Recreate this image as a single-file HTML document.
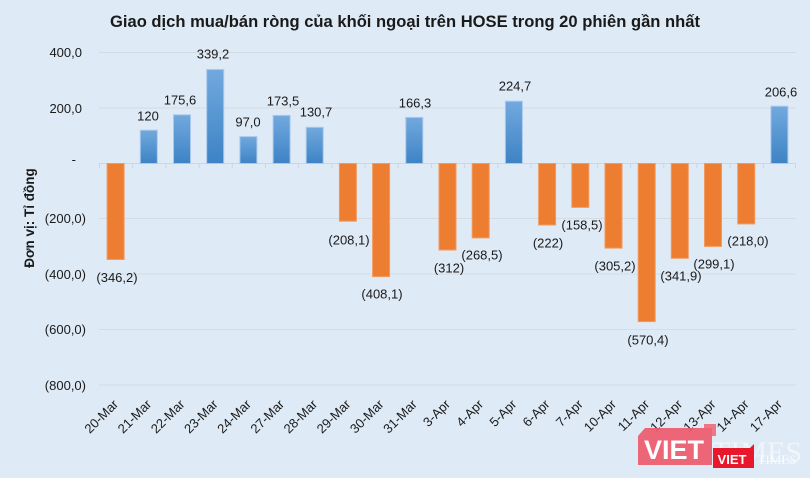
<!DOCTYPE html>
<html><head><meta charset="utf-8"><style>
html,body{margin:0;padding:0;background:#deeaf6;}
svg{display:block;font-family:"Liberation Sans",Arial,sans-serif;}
</style></head><body>
<svg width="810" height="478" viewBox="0 0 810 478" xmlns="http://www.w3.org/2000/svg">
<defs>
<linearGradient id="bg" x1="0" y1="0" x2="0" y2="1">
<stop offset="0" stop-color="#72a9de"/><stop offset="1" stop-color="#3d83c5"/>
</linearGradient>
</defs>
<rect x="0" y="0" width="810" height="478" fill="#deeaf6"/>
<text x="405" y="27" text-anchor="middle" font-size="16.5" font-weight="bold" fill="#1a1a1a" textLength="590" lengthAdjust="spacingAndGlyphs">Giao dịch mua/bán ròng của khối ngoại trên HOSE trong 20 phiên gần nhất</text>
<!-- grid -->
<g stroke="#d5dbe3" stroke-width="1">
<line x1="99" y1="52.5" x2="796" y2="52.5"/>
<line x1="99" y1="108" x2="796" y2="108"/>
<line x1="99" y1="218.5" x2="796" y2="218.5"/>
<line x1="99" y1="274" x2="796" y2="274"/>
<line x1="99" y1="329.5" x2="796" y2="329.5"/>
<line x1="99" y1="385" x2="796" y2="385"/>
</g>
<line x1="99" y1="163.5" x2="796" y2="163.5" stroke="#cfd6df" stroke-width="1"/>
<g stroke="#cfd6df" stroke-width="1">
<line x1="99.5" y1="163" x2="99.5" y2="168"/>
<line x1="132.7" y1="163" x2="132.7" y2="168"/>
<line x1="165.9" y1="163" x2="165.9" y2="168"/>
<line x1="199.1" y1="163" x2="199.1" y2="168"/>
<line x1="232.3" y1="163" x2="232.3" y2="168"/>
<line x1="265.5" y1="163" x2="265.5" y2="168"/>
<line x1="298.6" y1="163" x2="298.6" y2="168"/>
<line x1="331.8" y1="163" x2="331.8" y2="168"/>
<line x1="365" y1="163" x2="365" y2="168"/>
<line x1="398.2" y1="163" x2="398.2" y2="168"/>
<line x1="431.4" y1="163" x2="431.4" y2="168"/>
<line x1="464.6" y1="163" x2="464.6" y2="168"/>
<line x1="497.8" y1="163" x2="497.8" y2="168"/>
<line x1="531" y1="163" x2="531" y2="168"/>
<line x1="564.2" y1="163" x2="564.2" y2="168"/>
<line x1="597.4" y1="163" x2="597.4" y2="168"/>
<line x1="630.6" y1="163" x2="630.6" y2="168"/>
<line x1="663.7" y1="163" x2="663.7" y2="168"/>
<line x1="696.9" y1="163" x2="696.9" y2="168"/>
<line x1="730.1" y1="163" x2="730.1" y2="168"/>
<line x1="763.3" y1="163" x2="763.3" y2="168"/>
<line x1="795.5" y1="163" x2="795.5" y2="168"/>
</g>
<!-- y labels -->
<g font-size="13" fill="#1a1a1a" text-anchor="end">
<text x="82" y="57">400,0</text>
<text x="82" y="113">200,0</text>
<text x="76" y="164">-</text>
<text x="86" y="223">(200,0)</text>
<text x="86" y="279">(400,0)</text>
<text x="86" y="334">(600,0)</text>
<text x="86" y="390">(800,0)</text>
</g>
<text transform="translate(34,218) rotate(-90)" text-anchor="middle" font-size="13.5" font-weight="bold" fill="#1a1a1a">Đơn vị: Tỉ đồng</text>
<!-- bars -->
<g stroke-width="1">
<rect x="107.1" y="163.5" width="17" height="96" fill="#ed7d31" stroke="#f29a5e"/>
<rect x="140.3" y="130.2" width="17" height="33.3" fill="url(#bg)" stroke="#a9c9ec"/>
<rect x="173.5" y="114.8" width="17" height="48.7" fill="url(#bg)" stroke="#a9c9ec"/>
<rect x="206.7" y="69.5" width="17" height="94" fill="url(#bg)" stroke="#a9c9ec"/>
<rect x="239.9" y="136.6" width="17" height="26.9" fill="url(#bg)" stroke="#a9c9ec"/>
<rect x="273.1" y="115.4" width="17" height="48.1" fill="url(#bg)" stroke="#a9c9ec"/>
<rect x="306.2" y="127.3" width="17" height="36.2" fill="url(#bg)" stroke="#a9c9ec"/>
<rect x="339.4" y="163.5" width="17" height="57.7" fill="#ed7d31" stroke="#f29a5e"/>
<rect x="372.6" y="163.5" width="17" height="113.1" fill="#ed7d31" stroke="#f29a5e"/>
<rect x="405.8" y="117.4" width="17" height="46.1" fill="url(#bg)" stroke="#a9c9ec"/>
<rect x="439" y="163.5" width="17" height="86.5" fill="#ed7d31" stroke="#f29a5e"/>
<rect x="472.2" y="163.5" width="17" height="74.4" fill="#ed7d31" stroke="#f29a5e"/>
<rect x="505.4" y="101.2" width="17" height="62.3" fill="url(#bg)" stroke="#a9c9ec"/>
<rect x="538.6" y="163.5" width="17" height="61.5" fill="#ed7d31" stroke="#f29a5e"/>
<rect x="571.8" y="163.5" width="17" height="43.9" fill="#ed7d31" stroke="#f29a5e"/>
<rect x="605" y="163.5" width="17" height="84.6" fill="#ed7d31" stroke="#f29a5e"/>
<rect x="638.2" y="163.5" width="17" height="158.1" fill="#ed7d31" stroke="#f29a5e"/>
<rect x="671.3" y="163.5" width="17" height="94.8" fill="#ed7d31" stroke="#f29a5e"/>
<rect x="704.5" y="163.5" width="17" height="82.9" fill="#ed7d31" stroke="#f29a5e"/>
<rect x="737.7" y="163.5" width="17" height="60.4" fill="#ed7d31" stroke="#f29a5e"/>
<rect x="770.9" y="106.2" width="17" height="57.3" fill="url(#bg)" stroke="#a9c9ec"/>
</g>
<!-- data labels -->
<g font-size="13" fill="#1a1a1a" text-anchor="middle">
<text x="117" y="282">(346,2)</text>
<text x="148" y="120.5">120</text>
<text x="180" y="104.5">175,6</text>
<text x="213" y="58.5">339,2</text>
<text x="248" y="126.5">97,0</text>
<text x="283" y="105.5">173,5</text>
<text x="316" y="116.5">130,7</text>
<text x="349" y="244.5">(208,1)</text>
<text x="382" y="298.5">(408,1)</text>
<text x="415" y="107.5">166,3</text>
<text x="449" y="272.5">(312)</text>
<text x="482" y="259.5">(268,5)</text>
<text x="515" y="90.5">224,7</text>
<text x="548" y="247.5">(222)</text>
<text x="582" y="229.5">(158,5)</text>
<text x="615" y="270.5">(305,2)</text>
<text x="648" y="344.5">(570,4)</text>
<text x="681" y="280.5">(341,9)</text>
<text x="714" y="268.5">(299,1)</text>
<text x="748" y="245.5">(218,0)</text>
<text x="781" y="96.5">206,6</text>
</g>
<!-- x labels -->
<g font-size="13" fill="#1a1a1a" text-anchor="end">
<text transform="translate(119,405) rotate(-45)">20-Mar</text>
<text transform="translate(152.2,405) rotate(-45)">21-Mar</text>
<text transform="translate(185.4,405) rotate(-45)">22-Mar</text>
<text transform="translate(218.6,405) rotate(-45)">23-Mar</text>
<text transform="translate(251.8,405) rotate(-45)">24-Mar</text>
<text transform="translate(285,405) rotate(-45)">27-Mar</text>
<text transform="translate(318.1,405) rotate(-45)">28-Mar</text>
<text transform="translate(351.3,405) rotate(-45)">29-Mar</text>
<text transform="translate(384.5,405) rotate(-45)">30-Mar</text>
<text transform="translate(417.7,405) rotate(-45)">31-Mar</text>
<text transform="translate(450.9,405) rotate(-45)">3-Apr</text>
<text transform="translate(484.1,405) rotate(-45)">4-Apr</text>
<text transform="translate(517.3,405) rotate(-45)">5-Apr</text>
<text transform="translate(550.5,405) rotate(-45)">6-Apr</text>
<text transform="translate(583.7,405) rotate(-45)">7-Apr</text>
<text transform="translate(616.9,405) rotate(-45)">10-Apr</text>
<text transform="translate(650.1,405) rotate(-45)">11-Apr</text>
<text transform="translate(683.2,405) rotate(-45)">12-Apr</text>
<text transform="translate(716.4,405) rotate(-45)">13-Apr</text>
<text transform="translate(749.6,405) rotate(-45)">14-Apr</text>
<text transform="translate(782.8,405) rotate(-45)">17-Apr</text>
</g>
<!-- watermark -->
<polygon points="645,428 712,428 712,465 638,465 638,436" fill="#ee5a6c" opacity="0.92"/>
<polygon points="704,424 716,424 716,436 712,436 712,428 704,428" fill="#ee5a6c" opacity="0.8"/>
<text x="674" y="459" text-anchor="middle" font-size="27" font-weight="bold" fill="#ffffff">VIET</text>
<text x="757" y="462" text-anchor="middle" font-family="Liberation Serif,serif" font-size="30" fill="#ffffff" opacity="0.55">TIMES</text>
<polygon points="713,448 750,448 754,444 754,468 713,468" fill="#e8182c"/>
<text x="732" y="464" text-anchor="middle" font-size="13" font-weight="bold" fill="#ffffff">VIET</text>
<text x="777" y="464" text-anchor="middle" font-family="Liberation Serif,serif" font-size="13" fill="#ffffff" opacity="0.8">TIMES</text>
</svg>
</body></html>
